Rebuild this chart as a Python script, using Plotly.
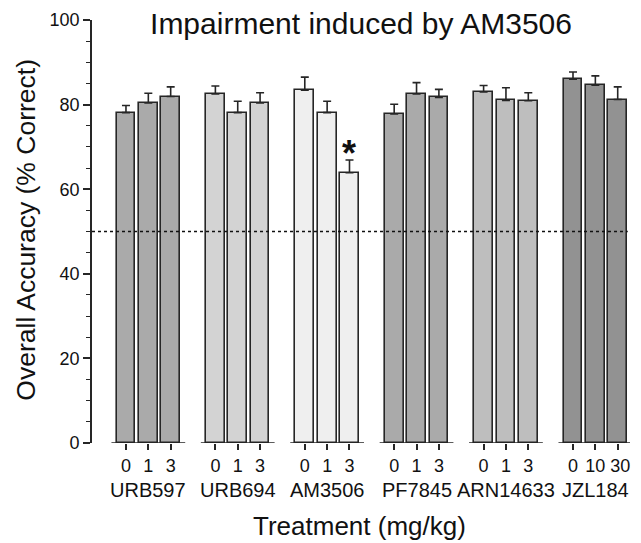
import plotly.graph_objects as go

groups = ["URB597", "URB694", "AM3506", "PF7845", "ARN14633", "JZL184"]
doses = [["0", "1", "3"], ["0", "1", "3"], ["0", "1", "3"],
         ["0", "1", "3"], ["0", "1", "3"], ["0", "10", "\u00a030"]]
means = [[78.1, 80.4, 81.9],
         [82.5, 78.1, 80.4],
         [83.4, 78.1, 63.9],
         [77.8, 82.5, 81.7],
         [83.0, 81.0, 80.9],
         [86.0, 84.6, 81.2]]
sems = [[1.7, 2.3, 2.3],
        [1.9, 2.7, 2.4],
        [3.1, 2.7, 3.0],
        [2.3, 2.7, 1.9],
        [1.5, 3.0, 1.9],
        [1.7, 2.2, 3.0]]
colors = ["#aaaaaa", "#d3d3d3", "#efefef", "#aaaaaa", "#bebebe", "#929292"]
chance_level = 50
significant = [(2, 2)]  # (group, dose index)

FONT = "Liberation Sans, Arial, Helvetica, sans-serif"
GAP = 4  # slots per group (3 bars + gap)

fig = go.Figure()
tickvals, ticktext = [], []
for g, name in enumerate(groups):
    xs = [g * GAP + j for j in range(len(means[g]))]
    tickvals += xs
    ticktext += doses[g]
    fig.add_trace(go.Bar(
        x=xs, y=means[g], width=0.84,
        marker=dict(color=colors[g], line=dict(color="#262626", width=1.6)),
        error_y=dict(type="data", symmetric=False, array=sems[g],
                     arrayminus=[0] * len(sems[g]), color="#262626",
                     thickness=1.6, width=4),
        showlegend=False, name=name, hoverinfo="skip",
    ))
    # broken x-axis segment per group
    fig.add_shape(type="line", xref="x", yref="y",
                  x0=xs[0] - 0.65, x1=xs[-1] + 0.65, y0=0, y1=0,
                  line=dict(color="#262626", width=1.6))
    fig.add_annotation(x=xs[1], y=-0.111, xref="x", yref="paper",
                       text=name, showarrow=False, yanchor="middle",
                       font=dict(family=FONT, size=20, color="#111"))

for g, j in significant:
    fig.add_annotation(x=g * GAP + j, y=means[g][j] + sems[g][j],
                       xref="x", yref="y", text="<b>*</b>", showarrow=False,
                       yanchor="bottom", yshift=-16,
                       font=dict(family=FONT, size=36, color="#111"))

x_min, x_max = -1.52, 22.55
fig.add_shape(type="line", xref="x", yref="y", x0=x_min, x1=x_max - 0.1,
              y0=chance_level, y1=chance_level,
              line=dict(color="#111", width=1.3, dash="dot"))

fig.add_annotation(x=0.497, y=-0.196, xref="paper", yref="paper",
                   text="Treatment (mg/kg)", showarrow=False,
                   yanchor="middle",
                   font=dict(family=FONT, size=26, color="#111"))
fig.add_annotation(x=-0.123, y=0.504, xref="paper", yref="paper",
                   text="Overall Accuracy (% Correct)", showarrow=False,
                   textangle=-90, xanchor="center", yanchor="middle",
                   font=dict(family=FONT, size=26.5, color="#111"))

fig.update_layout(
    width=641, height=543,
    margin=dict(l=92, r=11, t=20, b=100),
    plot_bgcolor="white", paper_bgcolor="white",
    title=dict(text="Impairment induced by AM3506", x=0.5, xref="paper",
               y=0.956, xanchor="center", yanchor="middle",
               font=dict(family=FONT, size=30, color="#111")),
    bargap=0,
    xaxis=dict(range=[x_min, x_max], tickvals=tickvals, ticktext=ticktext,
               ticks="outside", ticklen=6, tickwidth=1.6, tickcolor="#262626",
               showline=False, showgrid=False, zeroline=False, tickangle=0,
               tickfont=dict(family=FONT, size=18, color="#111")),
    yaxis=dict(range=[0, 100], tickvals=[0, 20, 40, 60, 80, 100],
               ticks="outside", ticklen=7, tickwidth=1.6, tickcolor="#262626",
               showline=True, linecolor="#262626", linewidth=1.6,
               showgrid=False, zeroline=False,
               minor=dict(dtick=5, ticks="outside", ticklen=4,
                          tickwidth=1.4, tickcolor="#262626", showgrid=False),
               tickfont=dict(family=FONT, size=18, color="#111")),
)

fig.write_html("out.html", config={"displayModeBar": False},
               post_script="document.body.style.margin='0';"
                           "document.body.style.overflow='hidden';")
